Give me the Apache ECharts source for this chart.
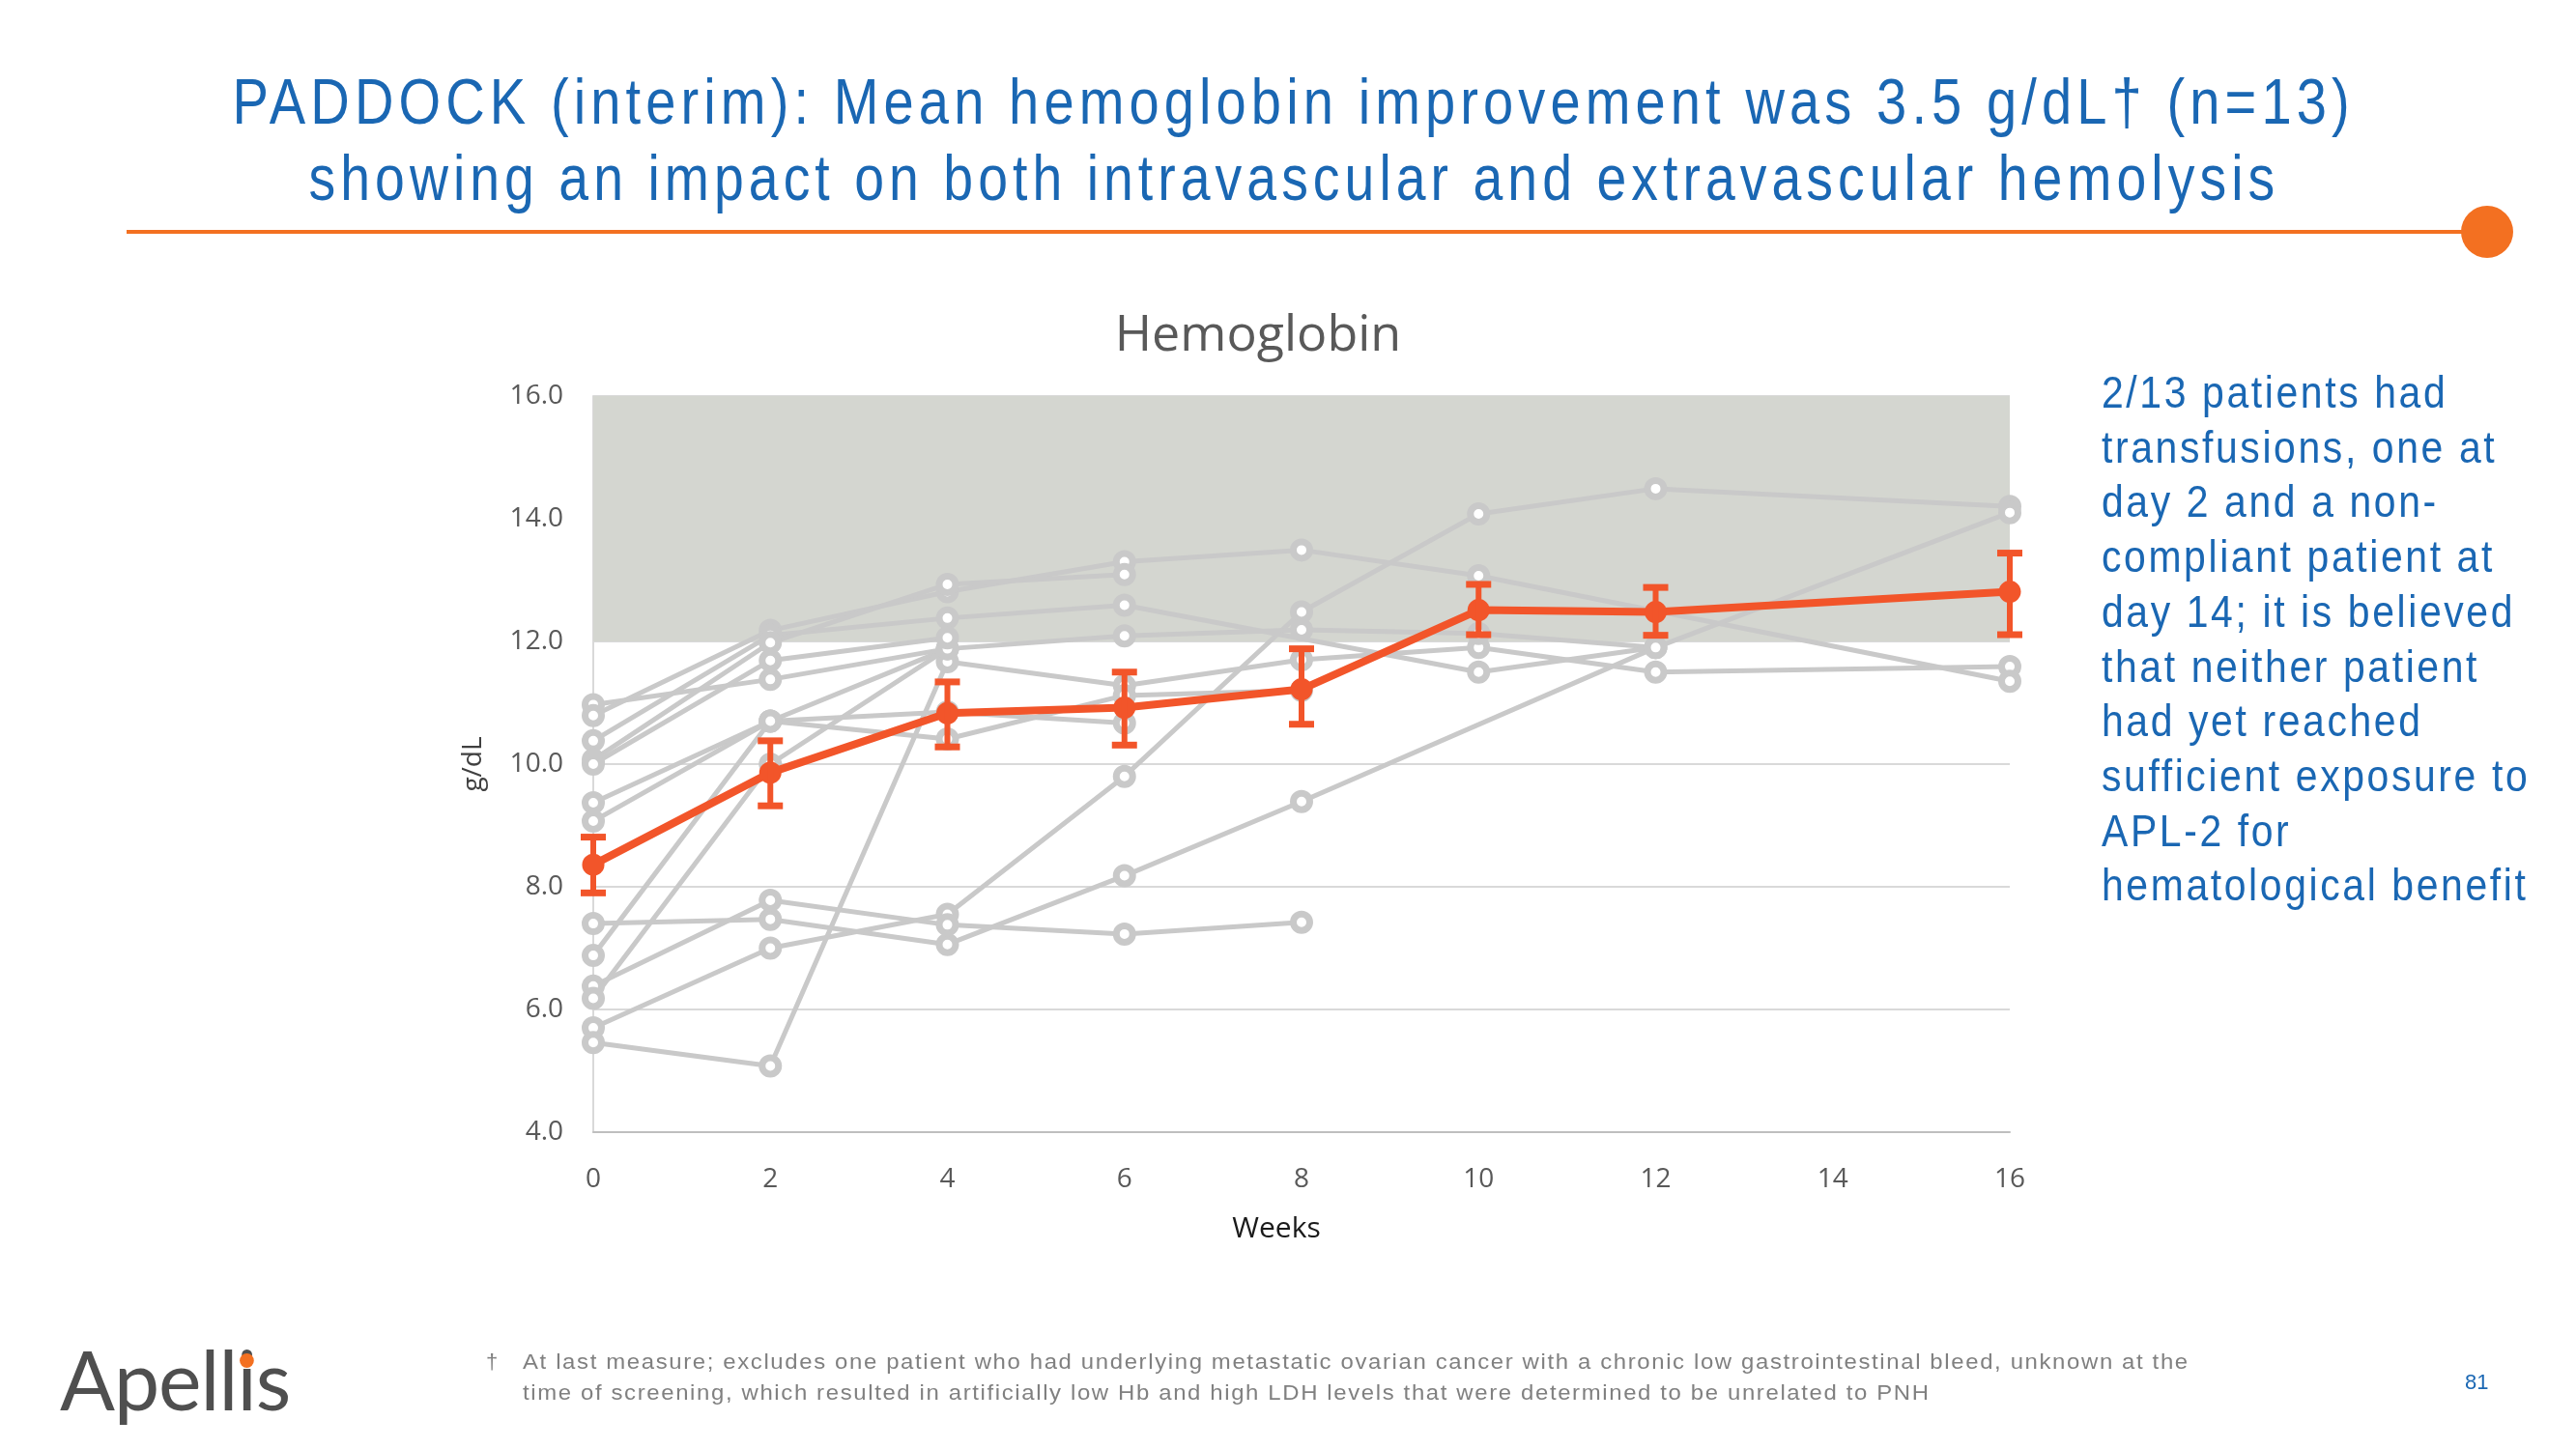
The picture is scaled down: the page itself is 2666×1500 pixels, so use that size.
<!DOCTYPE html>
<html>
<head>
<meta charset="utf-8">
<script src="https://cdn.jsdelivr.net/npm/echarts@6/dist/echarts.min.js"></script>
<style>
  html, body { margin:0; padding:0; background:#fff; }
  #page { position:relative; width:2666px; height:1500px; overflow:hidden; background:#fff; }
  #chart { position:absolute; left:0; top:0; width:2666px; height:1500px; }
  .ov { position:absolute; white-space:nowrap; font-family:"Liberation Sans", Arial, sans-serif; z-index:5; }
  .fit { display:inline-block; }
  .tline { left:0; width:2678px; text-align:center; font-size:66px; line-height:78px; color:#1a67b3; letter-spacing:6px; }
  .tline .fit { transform-origin:50% 50%; }
  .side { left:2175px; font-size:47px; line-height:56.7px; color:#1a67b3; letter-spacing:3px; }
  .side .fit, .foot .fit, .logo .fit { transform-origin:0 50%; }
  .foot { left:541px; font-size:22px; line-height:32px; color:#808080; letter-spacing:1.5px; }
  #rule { position:absolute; left:131px; top:238px; width:2430px; height:4px; background:#f37021; z-index:4; }
  #ruleDot { position:absolute; left:2547px; top:213px; width:54px; height:54px; border-radius:50%; background:#f37021; z-index:4; }
  .logo { left:62px; top:1384px; font-family:Lato, "Open Sans", sans-serif; font-size:86px; line-height:86px; color:#4f4f4f; letter-spacing:-1px; }
  .logo .i { position:relative; display:inline-block; }
  .logo .dot { position:absolute; z-index:6; left:50%; top:17px; width:15px; height:15px; margin-left:-7.5px; border-radius:50%; background:#f37021; }
</style>
</head>
<body>
<div id="page">
  <div id="chart"></div>
  <div id="rule"></div>
  <div id="ruleDot"></div>
  <div class="ov tline" style="top:66px;"><span class="fit" data-w="2196">PADDOCK (interim): Mean hemoglobin improvement was 3.5 g/dL† (n=13)</span></div>
  <div class="ov tline" style="top:145px;"><span class="fit" data-w="2040">showing an impact on both intravascular and extravascular hemolysis</span></div>
  <div id="sidebar"></div>
  <div class="ov foot" style="left:503px; top:1394px;">†</div>
  <div class="ov foot" style="top:1394px;"><span class="fit" id="foot1">At last measure; excludes one patient who had underlying metastatic ovarian cancer with a chronic low gastrointestinal bleed, unknown at the</span></div>
  <div class="ov foot" style="top:1426px;"><span class="fit" id="foot2">time of screening, which resulted in artificially low Hb and high LDH levels that were determined to be unrelated to PNH</span></div>
  <div class="ov" style="left:2551px; top:1415px; font-size:22px; line-height:32px; color:#1a67b3;">81</div>
  <div class="ov logo"><span class="fit" id="logo">Apell<span class="i">i<span class="dot"></span></span>s</span></div>
</div>
<script>
// ---------------- DATA ----------------
const weekTicks = [0, 2, 4, 6, 8, 10, 12, 14, 16];
const weeks     = [0, 2, 4, 6, 8, 10, 12, 16];

// mean hemoglobin (g/dL) with error-bar limits
const meanHb  = [8.36, 9.86, 10.83, 10.92, 11.22, 12.51, 12.48, 12.81];
const errLow  = [7.90, 9.32, 10.28, 10.31, 10.65, 12.11, 12.10, 12.11];
const errHigh = [8.81, 10.38, 11.34, 11.50, 11.88, 12.93, 12.88, 13.44];

// individual patients, values at weeks 0,2,4,6,8,10,12,16 (null = no measurement)
const patient01 = [5.70, 7.00, 7.55, 9.80, 12.48, 14.08, 14.49, 14.20];
const patient02 = [7.40, 7.47, 7.06, 8.18, 9.39, null, 11.90, 14.10];
const patient03 = [6.38, 7.78, 7.38, 7.23, 7.42, null, null, null];
const patient04 = [5.46, 5.08, 11.67, 11.28, 11.70, 11.90, 11.50, 11.59];
const patient05 = [6.88, 10.70, 11.88, null, null, null, null, null];
const patient06 = [6.18, 10.00, 11.88, null, null, null, null, null];
const patient07 = [10.97, 11.38, 11.88, 12.09, 12.19, 12.13, 11.90, null];
const patient08 = [10.79, 12.18, 12.81, 13.30, 13.49, 13.07, null, 11.35];
const patient09 = [10.38, 12.10, 12.38, 12.59, null, 11.50, 11.90, null];
const patient10 = [10.07, 11.98, 12.93, 13.09, null, null, null, null];
const patient11 = [10.00, 11.69, 12.06, null, null, null, null, null];
const patient12 = [9.37, 10.70, 10.85, 10.67, null, null, null, null];
const patient13 = [9.07, 10.70, 10.41, 11.12, 11.20, null, null, null];

const patients = [patient01, patient02, patient03, patient04, patient05, patient06, patient07,
                  patient08, patient09, patient10, patient11, patient12, patient13];

// normal range band
const normalLow = 12, normalHigh = 16;
const yTicks = [4, 6, 8, 10, 12, 14, 16];

// ---------------- CHART ----------------
const GRAY = '#c9c9c9';
const ORANGE = '#f2552a';
const FONT = '"Open Sans", "Noto Sans", sans-serif';

const series = [];
series.push({
  type: 'line', name: 'band', data: [], z: -1, silent: true,
  markArea: {
    silent: true,
    itemStyle: { color: '#d4d6d0' },
    data: [[{ xAxis: weekTicks[0], yAxis: normalLow }, { xAxis: weekTicks[weekTicks.length - 1], yAxis: normalHigh }]]
  }
});
patients.forEach((p, idx) => {
  series.push({
    type: 'line',
    name: 'Patient ' + (idx + 1),
    data: weeks.map((w, i) => [w, p[i]]).filter(d => d[1] !== null),
    symbol: 'circle',
    symbolSize: 17,
    showAllSymbol: true,
    clip: false,
    z: 2,
    lineStyle: { color: GRAY, width: 5 },
    itemStyle: { color: '#ffffff', borderColor: GRAY, borderWidth: 7 }
  });
});
series.push({
  type: 'line', name: 'Mean',
  data: weeks.map((w, i) => [w, meanHb[i]]),
  symbol: 'circle', symbolSize: 23, clip: false, z: 4,
  lineStyle: { color: ORANGE, width: 8 },
  itemStyle: { color: ORANGE }
});
series.push({
  type: 'custom', name: 'Error', z: 5, clip: false,
  data: weeks.map((w, i) => [w, errLow[i], errHigh[i]]),
  encode: { x: 0, y: [1, 2] },
  renderItem: function (params, api) {
    const x = api.value(0);
    const lo = api.coord([x, api.value(1)]);
    const hi = api.coord([x, api.value(2)]);
    const cap = 13;
    const st = { stroke: ORANGE, lineWidth: 6 };
    const cst = { stroke: ORANGE, lineWidth: 7 };
    return {
      type: 'group',
      children: [
        { type: 'line', shape: { x1: lo[0], y1: lo[1], x2: hi[0], y2: hi[1] }, style: st },
        { type: 'line', shape: { x1: lo[0] - cap, y1: lo[1], x2: lo[0] + cap, y2: lo[1] }, style: cst },
        { type: 'line', shape: { x1: hi[0] - cap, y1: hi[1], x2: hi[0] + cap, y2: hi[1] }, style: cst }
      ]
    };
  }
});

const chart = echarts.init(document.getElementById('chart'), null, { renderer: 'canvas' });
chart.setOption({
  animation: false,
  title: {
    text: 'Hemoglobin', left: 1297, top: 317, textAlign: 'center',
    textStyle: { fontFamily: FONT, fontSize: 52, fontWeight: 'normal', color: '#595959' }
  },
  grid: { left: 614, right: 586, top: 410, bottom: 328, containLabel: false },
  xAxis: {
    type: 'value', min: weekTicks[0], max: weekTicks[weekTicks.length - 1], interval: 2,
    name: 'Weeks', nameLocation: 'middle', nameGap: 85,
    nameTextStyle: { fontFamily: FONT, fontSize: 30, color: '#1a1a1a', padding: [0, 52, 0, 0] },
    axisLine: { show: true, lineStyle: { color: '#bfbfbf', width: 2 } },
    axisTick: { show: false },
    splitLine: { show: false },
    axisLabel: { margin: 35, fontFamily: FONT, fontSize: 28, color: '#595959' }
  },
  yAxis: {
    type: 'value', min: yTicks[0], max: yTicks[yTicks.length - 1], interval: 2,
    name: 'g/dL', nameLocation: 'middle', nameGap: 110,
    nameTextStyle: { fontFamily: FONT, fontSize: 28, color: '#404040' },
    axisLine: { show: true, lineStyle: { color: '#d9d9d9', width: 2 } },
    axisTick: { show: false },
    splitLine: { show: true, lineStyle: { color: '#d9d9d9', width: 2 } },
    axisLabel: { margin: 31, fontFamily: FONT, fontSize: 28, color: '#595959',
      formatter: v => v.toFixed(1) }
  },
  series: series
});

// ---------------- SLIDE TEXT ----------------
const sideLines = [
  '2/13 patients had',
  'transfusions, one at',
  'day 2 and a non-',
  'compliant patient at',
  'day 14; it is believed',
  'that neither patient',
  'had yet reached',
  'sufficient exposure to',
  'APL-2 for',
  'hematological benefit'
];
const sb = document.getElementById('sidebar');
const sideSpans = [];
sideLines.forEach((t, i) => {
  const d = document.createElement('div');
  d.className = 'ov side';
  d.style.top = (378 + i * 56.7) + 'px';
  const s = document.createElement('span');
  s.className = 'fit';
  s.textContent = t;
  d.appendChild(s);
  sb.appendChild(d);
  sideSpans.push(s);
});
function fitAll() {
  document.querySelectorAll('.tline .fit').forEach(el => {
    const w = parseFloat(el.getAttribute('data-w'));
    el.style.transform = 'scaleX(' + (w / el.offsetWidth) + ')';
  });
  const k = 443 / sideSpans[7].offsetWidth;
  sideSpans.forEach(s => s.style.transform = 'scaleX(' + k + ')');
  const f1 = document.getElementById('foot1');
  const kf = 1725 / f1.offsetWidth;
  f1.style.transform = 'scaleX(' + kf + ')';
  document.getElementById('foot2').style.transform = 'scaleX(' + kf + ')';
  const lg = document.getElementById('logo');
  lg.style.transform = 'scaleX(' + (238 / lg.offsetWidth) + ')';
}
fitAll();
</script>
</body>
</html>
